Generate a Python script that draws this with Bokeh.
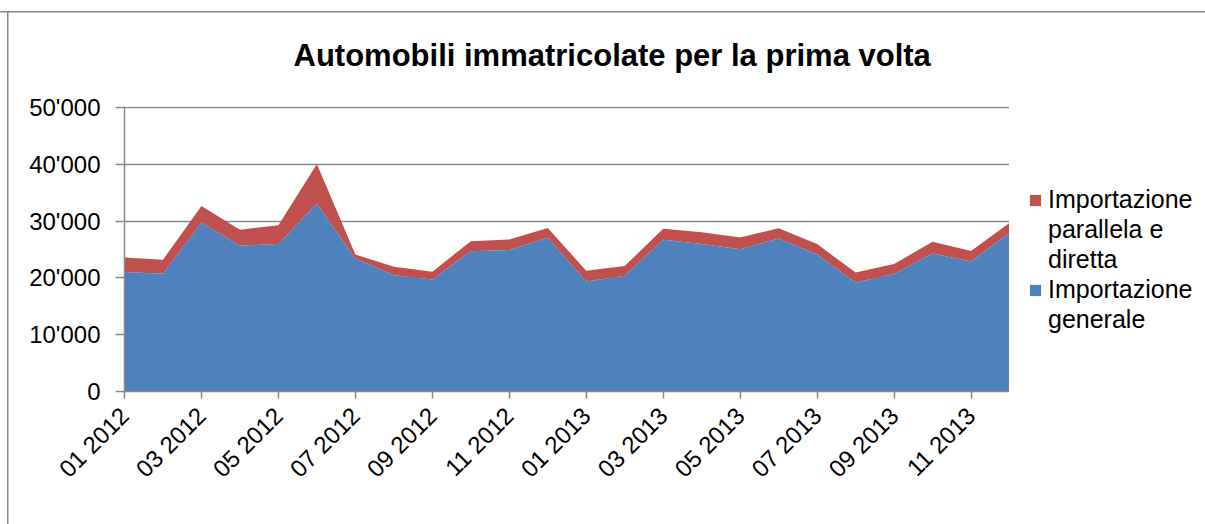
import math
from bokeh.plotting import figure
from bokeh.layouts import row
from bokeh.models import (ColumnDataSource, Range1d, FixedTicker, Title, Legend, LegendItem)
from bokeh.embed import file_html
from bokeh.resources import INLINE

months = ["01 2012", "02 2012", "03 2012", "04 2012", "05 2012", "06 2012",
          "07 2012", "08 2012", "09 2012", "10 2012", "11 2012", "12 2012",
          "01 2013", "02 2013", "03 2013", "04 2013", "05 2013", "06 2013",
          "07 2013", "08 2013", "09 2013", "10 2013", "11 2013", "12 2013"]
generale = [21050, 20750, 29700, 25700, 25950, 33100, 23400, 20450, 19700, 24700, 24900, 27050,
            19350, 20400, 26700, 25950, 25050, 26950, 24100, 19200, 20700, 24300, 22900, 27950]
parallela = [2550, 2450, 2950, 2800, 3300, 6950, 700, 1500, 1400, 1750, 1850, 1750,
             1900, 1700, 1950, 2100, 2050, 1800, 1850, 1750, 1750, 2050, 1850, 1750]
legend_lines_par = ["Importazione", "parallela e", "diretta"]
legend_lines_gen = ["Importazione", "generale"]
y_ticks = [0, 10000, 20000, 30000, 40000, 50000]
y_tick_labels = ["0", "10'000", "20'000", "30'000", "40'000", "50'000"]
title_text = "Automobili immatricolate per la prima volta"

BLUE = "#4F81BD"
RED = "#C0504D"
GRAY = "#898989"
FONT = "Liberation Sans"

x_idx = list(range(len(months)))
source = ColumnDataSource(dict(x=x_idx, gen=generale, par=parallela))

p = figure(width=1009, height=524, output_backend="svg", toolbar_location=None,
           x_range=Range1d(0, len(months) - 1), y_range=Range1d(0, 50180),
           min_border_left=124, min_border_right=0, min_border_top=106, min_border_bottom=133,
           title=None)
# outer chart frame lines (left at x=7, top at y=12) drawn as element background,
# visible through the transparent border area of the canvas
p.styles = {
    "background-image": "linear-gradient(#898989, #898989), linear-gradient(#898989, #898989)",
    "background-size": "100% 1.5px, 1.5px 100%",
    "background-position": "0px 11px, 7px 11px",
    "background-repeat": "no-repeat",
}
p.outline_line_color = None
p.background_fill_color = "white"
p.border_fill_color = None

rs = p.varea_stack(["gen", "par"], x="x", source=source, color=[BLUE, RED])

# axes
xt = list(range(0, len(months), 2))
p.xaxis.ticker = FixedTicker(ticks=xt)
p.xaxis.major_label_overrides = {i: months[i] for i in xt}
p.xaxis.major_label_orientation = math.pi / 4
p.yaxis.ticker = FixedTicker(ticks=y_ticks)
p.yaxis.major_label_overrides = {t: l for t, l in zip(y_ticks, y_tick_labels)}
for ax in (p.xaxis[0], p.yaxis[0]):
    ax.axis_line_color = GRAY
    ax.axis_line_width = 1.5
    ax.major_tick_line_color = GRAY
    ax.major_tick_line_width = 1.5
    ax.major_tick_in = 0
    ax.minor_tick_line_color = None
    ax.major_label_text_font = FONT
    ax.major_label_text_font_size = "24px"
    ax.major_label_text_color = "black"
p.xaxis.major_tick_out = 7
p.xaxis.major_label_standoff = 13
p.yaxis.major_tick_out = 9
p.yaxis.major_label_standoff = 15
p.xgrid.grid_line_color = None
p.ygrid.grid_line_color = GRAY
p.ygrid.grid_line_width = 1.5
p.ygrid.ticker = FixedTicker(ticks=y_ticks)

# title
t = Title(text=title_text, text_font=FONT, text_font_size="31px", text_font_style="bold",
          text_color="black", align="left", offset=169, standoff=68)
p.add_layout(t, "above")

# legend panel: a second, axis-less figure to the right of the chart
q = figure(width=196, height=524, output_backend="svg", toolbar_location=None,
           x_range=Range1d(0, 1), y_range=Range1d(0, 1),
           x_axis_type=None, y_axis_type=None,
           min_border_left=0, min_border_right=0, min_border_top=0, min_border_bottom=0)
q.styles = {
    "background-image": "linear-gradient(#898989, #898989)",
    "background-size": "100% 1.5px",
    "background-position": "0px 11px",
    "background-repeat": "no-repeat",
}
q.outline_line_color = None
q.background_fill_color = None
q.border_fill_color = None
q.grid.grid_line_color = None

# legend carriers: zero-height areas (nothing visible is drawn in this panel)
r_par = q.varea(x="x", y1="gen", y2="gen", source=source, color=RED)
r_gen = q.varea(x="x", y1="gen", y2="gen", source=source, color=BLUE)
blank = q.scatter(x=[], y=[], size=0, fill_alpha=0, line_alpha=0)

items = [LegendItem(label=legend_lines_par[0], renderers=[r_par])]
items += [LegendItem(label=s, renderers=[blank]) for s in legend_lines_par[1:]]
items += [LegendItem(label=legend_lines_gen[0], renderers=[r_gen])]
items += [LegendItem(label=s, renderers=[blank]) for s in legend_lines_gen[1:]]
legend = Legend(items=items, location=(19, 57), orientation="vertical",
                label_text_font=FONT, label_text_font_size="25px", label_text_color="black",
                glyph_width=14, glyph_height=14, label_standoff=6, spacing=1,
                label_height=20, padding=0, margin=0, border_line_color=None,
                background_fill_alpha=0)
q.add_layout(legend, "center")

layout = row(p, q, spacing=0)
open("out.html", "w").write(file_html(layout, INLINE))
